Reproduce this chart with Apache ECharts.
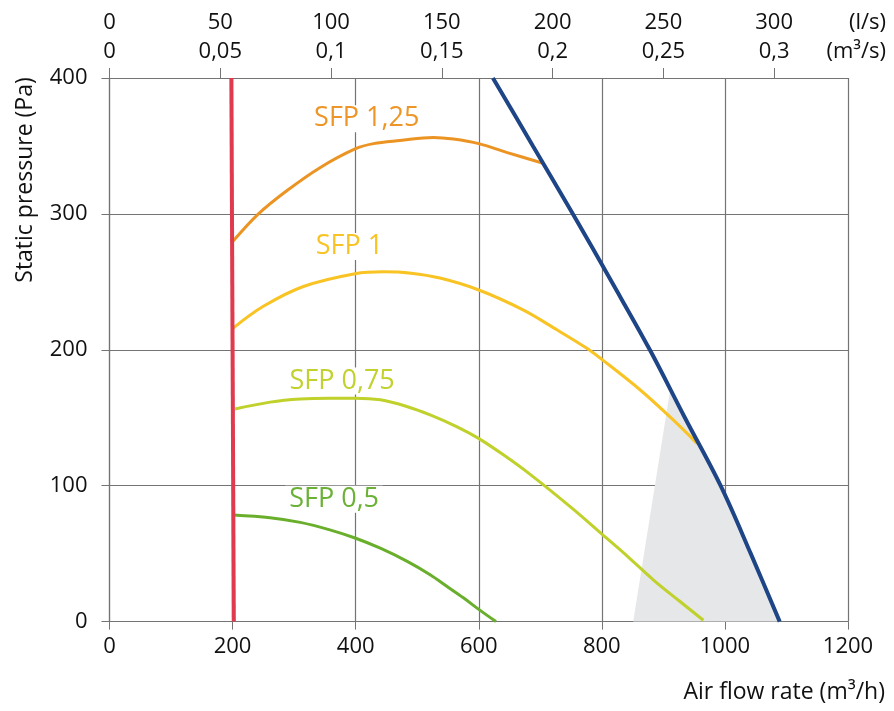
<!DOCTYPE html>
<html>
<head>
<meta charset="utf-8">
<script src="https://cdn.jsdelivr.net/npm/echarts@6/dist/echarts.min.js"></script>
<style>
  html, body { margin: 0; padding: 0; background: #fff; }
  #chart { width: 894px; height: 711px; }
</style>
</head>
<body>
<div id="chart"></div>
<script>
// bottom axis: m3/h, left axis: Pa
const xTicks = [0, 200, 400, 600, 800, 1000, 1200];
const yTicks = [0, 100, 200, 300, 400];
// top axis: l/s with m3/s under it
const topTicksLs = [0, 50, 100, 150, 200, 250, 300];
const topTicksM3s = ["0", "0,05", "0,1", "0,15", "0,2", "0,25", "0,3"];

const sfp125 = [[201, 280], [242, 300], [288, 317], [342, 334], [399, 347.8], [429, 351.7], [472, 354], [526, 356.3], [559, 355.1], [600, 351.7], [645, 345.3], [703, 337.5]];
const sfp1 = [[201, 216], [250, 232], [315, 246.6], [399, 256], [445, 257.4], [490, 256.4], [537, 252.8], [599, 244.2], [672, 229.4], [727, 214.7], [775, 201.3], [801, 192.6], [862, 170.6], [916, 148.4], [955, 131]];
const sfp075 = [[204, 156.5], [261, 161.5], [310, 163.8], [358, 164.4], [399, 164.4], [440, 163.2], [483, 158.3], [521, 152.1], [564, 143.5], [599, 135], [640, 122.7], [683, 108.5], [750, 84], [801, 64], [843, 47.5], [884, 30.6], [925, 15.5], [965, 1]];
const sfp05 = [[201, 78.5], [261, 76.5], [310, 73], [358, 67.5], [399, 61.5], [440, 54], [483, 44.5], [521, 34.5], [548, 26], [575, 17.5], [600, 9], [628, 0]];
const maxCurve = [[623, 400], [688, 350], [753, 300], [816, 250], [878, 200], [935, 150], [993, 100], [1042, 50], [1089, 0]];
const minFlow = [[198, 400], [202, 0]];
const grayZone = [[851, 0], [911, 170.5], [935, 150], [993, 100], [1042, 50], [1089, 0]];

const labels = [
  { text: "SFP 1,25", at: [418, 370], color: "#ED9627" },
  { text: "SFP 1", at: [390, 276], color: "#F8C324" },
  { text: "SFP 0,75", at: [378, 177], color: "#C2D12E" },
  { text: "SFP 0,5", at: [365, 90], color: "#6BB136" },
];

const FONT = "Open Sans";
const gridColor = "#747474";

function curve(name, data, color, width, label) {
  const s = {
    name: name, type: "line", data: data, smooth: 0.35, symbol: "none",
    lineStyle: { color: color, width: width }, z: 3,
  };
  if (label) {
    s.markPoint = {
      symbol: "circle", symbolSize: 0, silent: true,
      data: [{ coord: label.at }],
      label: {
        show: true, position: "inside", formatter: label.text,
        fontFamily: FONT, fontSize: 27, color: label.color,
        backgroundColor: "#fff", padding: [0, 4],
      },
    };
  }
  return s;
}

const chart = echarts.init(document.getElementById("chart"));
chart.setOption({
  backgroundColor: "#fff",
  animation: false,
  textStyle: { fontFamily: FONT },
  grid: { left: 109.5, right: 46, top: 78, bottom: 89.4 },
  xAxis: [
    {
      type: "value", position: "bottom", min: xTicks[0], max: xTicks[xTicks.length - 1], interval: 200,
      axisLine: { show: true, lineStyle: { color: gridColor, width: 1.2 } },
      axisTick: { show: true, length: 8, lineStyle: { color: gridColor } },
      splitLine: { show: true, lineStyle: { color: gridColor, width: 1.2 } },
      axisLabel: { fontFamily: FONT, fontSize: 22, color: "#111", margin: 13, lineHeight: 24, formatter: (v) => String(v) },
    },
    {
      type: "value", position: "top", min: 0, max: 1200 / 3.6, interval: 50,
      axisLine: { show: true, lineStyle: { color: gridColor, width: 1.2 } },
      axisTick: { show: true, length: 10, lineStyle: { color: gridColor } },
      splitLine: { show: false },
      axisLabel: {
        fontFamily: FONT, fontSize: 22, color: "#111", margin: 11.5, lineHeight: 29,
        showMaxLabel: false,
        formatter: (v) => {
          const i = topTicksLs.indexOf(Math.round(v));
          return i < 0 ? "" : topTicksLs[i] + "\n" + topTicksM3s[i];
        },
      },
    },
  ],
  yAxis: {
    type: "value", min: yTicks[0], max: yTicks[yTicks.length - 1], interval: 100,
    axisLine: { show: true, lineStyle: { color: gridColor, width: 1.2 } },
    axisTick: { show: true, length: 8, lineStyle: { color: gridColor } },
    splitLine: { show: true, lineStyle: { color: gridColor, width: 1.2 } },
    axisLabel: { fontFamily: FONT, fontSize: 22, color: "#111", margin: 22 },
  },
  graphic: [
    { type: "text", x: 885, y: 692, style: { text: "Air flow rate (m³/h)", font: "23px " + FONT, fill: "#111", align: "right", verticalAlign: "middle" } },
    { type: "text", x: 25, y: 180, rotation: Math.PI / 2, style: { text: "Static pressure (Pa)", font: "23px " + FONT, fill: "#111", align: "center", verticalAlign: "middle" } },
    { type: "text", x: 886, y: 23, style: { text: "(l/s)", font: "22px " + FONT, fill: "#111", align: "right", verticalAlign: "middle" } },
    { type: "text", x: 886, y: 52, style: { text: "(m³/s)", font: "22px " + FONT, fill: "#111", align: "right", verticalAlign: "middle" } },
  ],
  series: [
    {
      name: "zone", type: "custom", xAxisIndex: 0, yAxisIndex: 0, data: [[0, 0]], z: 1, silent: true,
      renderItem: (params, api) => ({
        type: "polygon",
        shape: { points: grayZone.map((p) => api.coord(p)) },
        style: { fill: "#E6E7E9" },
      }),
    },
    curve("SFP 1,25", sfp125, "#EC9423", 3, labels[0]),
    curve("SFP 1", sfp1, "#F8C323", 3, labels[1]),
    curve("SFP 0,75", sfp075, "#BFD12A", 3, labels[2]),
    curve("SFP 0,5", sfp05, "#69AF2C", 3, labels[3]),
    Object.assign(curve("max", maxCurve, "#1E4586", 4), { z: 4 }),
    Object.assign(curve("min", minFlow, "#E03A4E", 4), { smooth: false, z: 5 }),
  ],
});
</script>
</body>
</html>
